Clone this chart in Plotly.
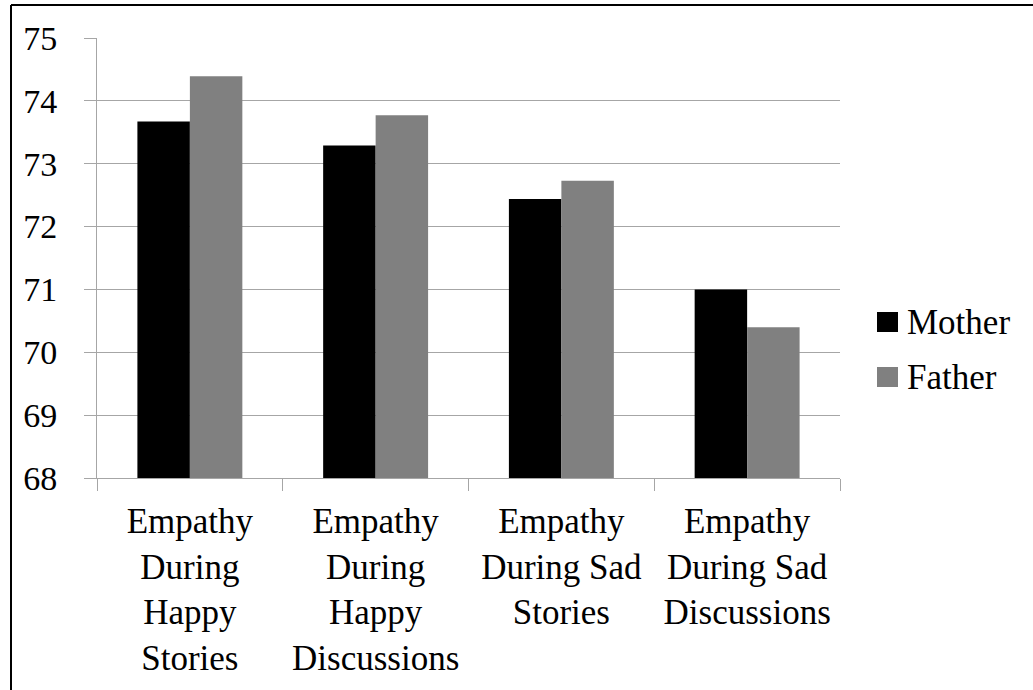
import plotly.graph_objects as go

# Mean empathy scores by context and parent
categories = [
    "Empathy<br>During<br>Happy<br>Stories",
    "Empathy<br>During<br>Happy<br>Discussions",
    "Empathy<br>During Sad<br>Stories",
    "Empathy<br>During Sad<br>Discussions",
]
mother = [73.67, 73.29, 72.44, 71.00]
father = [74.39, 73.77, 72.73, 70.40]
series_names = ["Mother", "Father"]
series_colors = ["#000000", "#808080"]
y_ticks = [68, 69, 70, 71, 72, 73, 74, 75]

FONT = "Liberation Serif"
GRID = "#a6a6a6"

W, H = 1033, 690
ML, MR, MT, MB = 97, 193, 38, 212
PW, PH = W - ML - MR, H - MT - MB


def px(x):
    return (x - ML) / PW


def py(y):
    return (H - MB - y) / PH


fig = go.Figure()
for name, vals, col in zip(series_names, [mother, father], series_colors):
    fig.add_trace(go.Bar(
        x=categories, y=vals, name=name,
        marker=dict(color=col, line=dict(width=0)),
        showlegend=False,
    ))

shapes = [
    # outer frame (top and left edges)
    dict(type="line", xref="paper", yref="paper",
         x0=px(11), x1=px(1045), y0=py(5), y1=py(5),
         line=dict(color="black", width=2)),
    dict(type="line", xref="paper", yref="paper",
         x0=px(11), x1=px(11), y0=py(5), y1=py(700),
         line=dict(color="black", width=2)),
]
annotations = []
legend_y = [322, 377]
for name, col, ly in zip(series_names, series_colors, legend_y):
    shapes.append(dict(type="rect", xref="paper", yref="paper",
                       x0=px(877), x1=px(898), y0=py(ly - 10), y1=py(ly + 10),
                       fillcolor=col, line=dict(width=0)))
    annotations.append(dict(xref="paper", yref="paper", x=px(905), y=py(ly),
                            text=name, showarrow=False, xanchor="left",
                            yanchor="middle",
                            font=dict(family=FONT, size=35)))

fig.update_layout(
    width=W, height=H,
    margin=dict(l=ML, r=MR, t=MT, b=MB, pad=0, autoexpand=False),
    paper_bgcolor="white", plot_bgcolor="white",
    barmode="group", bargap=0.435, bargroupgap=0,
    font_color="black",
    shapes=shapes, annotations=annotations,
    showlegend=False,
)
fig.update_xaxes(
    type="category", tickson="boundaries", automargin=False,
    showline=True, linecolor=GRID, linewidth=1,
    ticks="outside", ticklen=12, tickcolor=GRID, tickwidth=1,
    showgrid=False, tickangle=0, ticklabelstandoff=12,
    tickfont=dict(family=FONT, size=35),
)
fig.update_yaxes(
    range=[68, 75], tickvals=y_ticks, ticktext=[str(t) for t in y_ticks],
    automargin=False,
    showline=True, linecolor=GRID, linewidth=1,
    ticks="outside", ticklen=12, tickcolor=GRID, tickwidth=1,
    showgrid=True, gridcolor=GRID, gridwidth=1, zeroline=False,
    ticklabelstandoff=20,
    tickfont=dict(family=FONT, size=34),
)

fig.write_html("out.html")
